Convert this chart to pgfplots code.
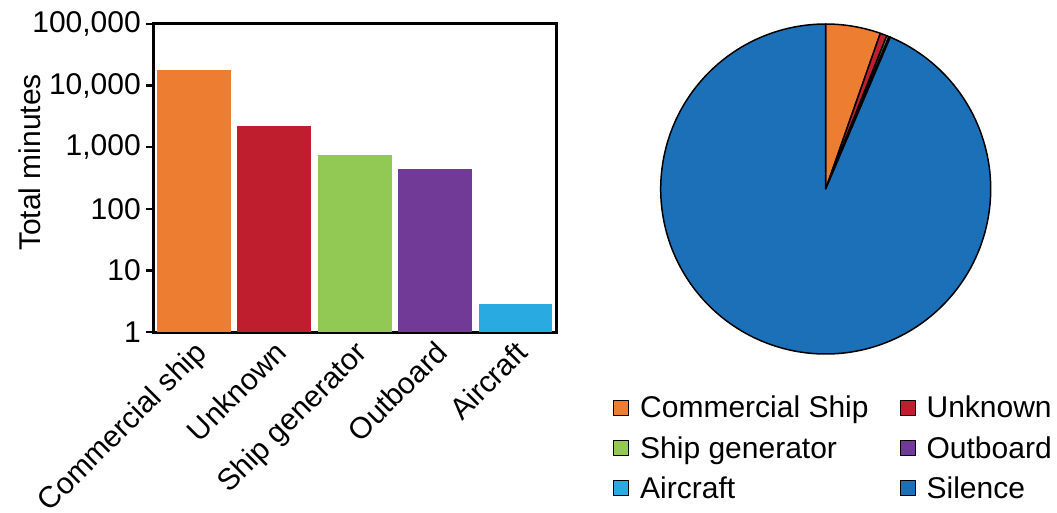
\documentclass[border=0pt]{standalone}
\usepackage{fontspec}
\setmainfont{Liberation Sans}
\usepackage{pgfplots}
\pgfplotsset{compat=1.18}
\definecolor{cOr}{RGB}{237,125,49}
\definecolor{cRe}{RGB}{190,30,45}
\definecolor{cGr}{RGB}{146,200,84}
\definecolor{cPu}{RGB}{112,58,150}
\definecolor{cCy}{RGB}{41,171,226}
\definecolor{cBl}{RGB}{28,112,184}
\newcommand\bigf{\fontsize{30}{35}\selectfont}
% pie values (total minutes)
\def\vA{17900}\def\vB{2234}\def\vC{755}\def\vD{443}\def\vE{2.85}\def\vF{312000}
\edef\tot{\fpeval{\vA+\vB+\vC+\vD+\vE+\vF}}
\edef\aA{\fpeval{90-360*\vA/\tot}}
\edef\aB{\fpeval{\aA-360*\vB/\tot}}
\edef\aC{\fpeval{\aB-360*\vC/\tot}}
\edef\aD{\fpeval{\aC-360*\vD/\tot}}
\edef\aE{\fpeval{\aD-360*\vE/\tot}}
\begin{document}
\begin{tikzpicture}
\useasboundingbox (0,0) rectangle (1057pt,512pt);
\begin{axis}[
  at={(153pt,180pt)}, anchor=south west,
  scale only axis, width=403pt, height=308pt,
  xmin=-0.51, xmax=4.504,
  ymode=log, ymin=1, ymax=100000,
  axis line style={line width=3pt},
  xtick={0,1,2,3,4},
  xticklabels={Commercial ship,Unknown,Ship generator,Outboard,Aircraft},
  xtick style={draw=none},
  ytick={1,10,100,1000,10000,100000},
  yticklabels={1,10,100,{1,000},{10,000},{100,000}},
  yminorticks=false,
  ytick pos=left, tick align=outside,
  major tick length=7pt,
  ytick style={line width=2.5pt, black},
  tick label style={font=\bigf},
  yticklabel style={inner sep=1pt, xshift=-4pt},
  xticklabel style={rotate=45, anchor=north east, inner sep=1pt, yshift=2pt},
  ylabel={Total minutes},
  ylabel style={font=\bigf, at={(axis description cs:-0.306,0.55)}, anchor=center},
  clip=false,
]
\addplot[ybar, fill=cOr, draw=none, bar width=0.92, bar shift=0] coordinates {(0,17900)};
\addplot[ybar, fill=cRe, draw=none, bar width=0.92, bar shift=0] coordinates {(1,2234)};
\addplot[ybar, fill=cGr, draw=none, bar width=0.92, bar shift=0] coordinates {(2,755)};
\addplot[ybar, fill=cPu, draw=none, bar width=0.92, bar shift=0] coordinates {(3,443)};
\addplot[ybar, fill=cCy, draw=none, bar width=0.92, bar shift=0] coordinates {(4,2.85)};
\end{axis}
\begin{axis}[
  at={(660.7pt,158pt)}, anchor=south west,
  scale only axis, width=330pt, height=330pt,
  xmin=-1, xmax=1, ymin=-1, ymax=1,
  hide axis, clip=false,
  legend columns=2,
  legend cell align=left,
  legend image code/.code={\draw[#1, line width=1pt] (0pt,-7.5pt) rectangle (15pt,7.5pt);},
  legend style={at={(-0.1445,-0.121)}, anchor=north west, draw=none, fill=none,
    inner sep=0pt, font=\bigf, column sep=9pt, row sep=13pt,
    /tikz/every even column/.append style={column sep=29pt}},
]
\addplot[fill=cOr, draw=black, line width=1.5pt, line join=round, domain=\aA:90, samples=40] ({cos(x)},{sin(x)}) -- (axis cs:0,0) -- cycle;
\addlegendentry{Commercial Ship}
\addplot[fill=cRe, draw=black, line width=1.5pt, line join=round, domain=\aB:\aA, samples=10] ({cos(x)},{sin(x)}) -- (axis cs:0,0) -- cycle;
\addlegendentry{Unknown}
\addplot[fill=cGr, draw=black, line width=1.5pt, line join=round, domain=\aC:\aB, samples=5] ({cos(x)},{sin(x)}) -- (axis cs:0,0) -- cycle;
\addlegendentry{Ship generator}
\addplot[fill=cPu, draw=black, line width=1.5pt, line join=round, domain=\aD:\aC, samples=5] ({cos(x)},{sin(x)}) -- (axis cs:0,0) -- cycle;
\addlegendentry{Outboard}
\addplot[fill=cCy, draw=black, line width=1.5pt, line join=round, domain=\aE:\aD, samples=2] ({cos(x)},{sin(x)}) -- (axis cs:0,0) -- cycle;
\addlegendentry{Aircraft}
\addplot[fill=cBl, draw=black, line width=1.5pt, line join=round, domain=-270:\aE, samples=300] ({cos(x)},{sin(x)}) -- (axis cs:0,0) -- cycle;
\addlegendentry{Silence}
\end{axis}
\end{tikzpicture}
\end{document}
